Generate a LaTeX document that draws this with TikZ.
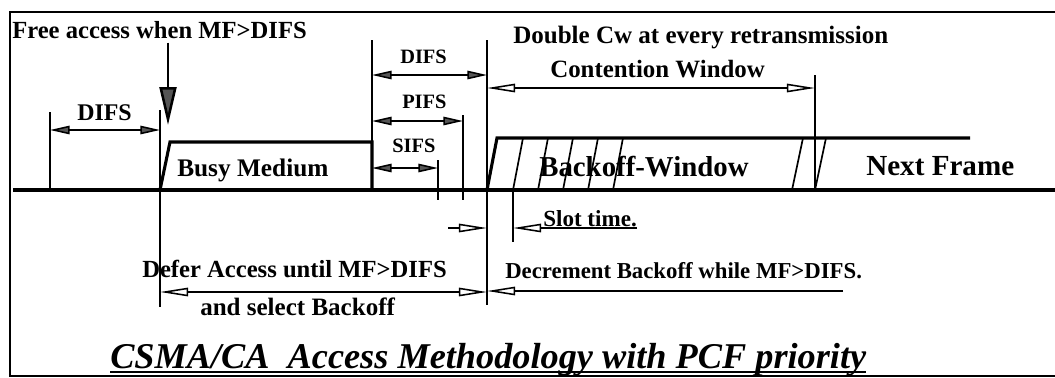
\documentclass[tikz,border=0pt]{standalone}
\usepackage{fontspec}
\setmainfont{Liberation Serif}
\usetikzlibrary{arrows.meta, positioning}
\definecolor{headgray}{RGB}{85, 85, 85}

\begin{document}
\begin{tikzpicture}[x=0.025cm, y=-0.025cm,
    lbl/.style={font=\bfseries\fontsize{#1}{#1}\selectfont, inner sep=0pt, anchor=base west},
    signal/.style={line width=2.2pt},
    tickline/.style={line width=1.3pt},
    slant/.style={line width=1.2pt},
    gap/.style={line width=1.1pt, {Triangle[length=14pt, width=6pt, fill=headgray]}-{Triangle[length=14pt, width=6pt, fill=headgray]}},
    span/.style={line width=1.1pt, {Triangle[open, length=20pt, width=6pt]}-{Triangle[open, length=20pt, width=6pt]}},
    half/.style={line width=1.1pt, -{Triangle[open, length=20pt, width=6pt]}},
    drop/.style={line width=1.8pt, -{Triangle[length=27pt, width=12pt, fill=headgray]}}]
  \useasboundingbox (0,0) rectangle (1055,377);

  % frame
  \draw[tickline] (1055,12) -- (10,12) -- (10,377);
  \draw[tickline] (10,376) -- (1055,376);

  % time instants on the medium line
  \coordinate (t0) at (50,190);
  \coordinate (t1) at (160,190);
  \coordinate (t2) at (372,190);
  \coordinate (t3) at (438,190);
  \coordinate (t4) at (463,190);
  \coordinate (t5) at (487,190);
  \coordinate (t6) at (513,190);
  \coordinate (t7) at (815,190);

  % medium, busy frame, backoff window and next frame
  \draw[signal] (13,190) -- (1055,190);
  \draw[signal] (t1) -- (170,142) -- (372,142) -- (t2);
  \draw[signal] (t5) -- (497,138) -- (970,138);
  \foreach \x in {513,538,...,613}
    \draw[slant] (\x,190) -- ++(10,-52);
  \draw[slant] (792,190) -- ++(11,-52);
  \draw[slant] (t7) -- ++(11,-52);

  % ticks
  \draw[tickline] (t0 |- 0,112) -- (t0);
  \draw[tickline] (t1 |- 0,110) -- (t1 |- 0,307);
  \draw[tickline] (t2 |- 0,40) -- (t2);
  \draw[tickline] (t3 |- 0,160) -- (t3 |- 0,200);
  \draw[tickline] (t4 |- 0,115) -- (t4 |- 0,200);
  \draw[tickline] (t5 |- 0,40) -- (t5 |- 0,305);
  \draw[tickline] (t6) -- (t6 |- 0,242);
  \draw[tickline] (t7 |- 0,75) -- (t7);

  % free access
  \node[lbl=17.5] (free) at (12,38) {Free access when MF>DIFS};
  \coordinate (freeTip) at (168,125);
  \draw[drop] (free.south -| freeTip) ++(0,4) -- (freeTip);

  % interframe spaces
  \node[lbl=17] (difsA) at (77,120) {DIFS};
  \draw[gap] (t0 |- 0,130) -- (t1 |- 0,130);
  \node[lbl=18] (busy) at (177,176) {Busy Medium};
  \node[lbl=14.5] (difsB) at (400,63) {DIFS};
  \draw[gap] (t2 |- 0,75) -- (t5 |- 0,75);
  \node[lbl=14.5] (pifs) at (402,108) {PIFS};
  \draw[gap] (t2 |- 0,121) -- (t4 |- 0,121);
  \node[lbl=14.5] (sifs) at (392,152) {SIFS};
  \draw[gap] (t2 |- 0,168) -- (t3 |- 0,168);

  % contention window
  \node[lbl=17.8] (double) at (513,43) {Double Cw at every retransmission};
  \node[lbl=17.7] (cw) at (550,77) {Contention Window};
  \draw[span] (t5 |- 0,88) -- (t7 |- 0,88);
  \node[lbl=20.5] (bw) at (539,176) {Backoff-Window};
  \node[lbl=20.7] (next) at (866,175) {Next Frame};

  % slot time
  \coordinate (slotIn) at (448,228);
  \coordinate (slotEnd) at (637,228);
  \draw[half] (slotIn) -- (t5 |- slotIn);
  \draw[half] (slotEnd) -- (t6 |- slotEnd);
  \node[lbl=16.4] (slot) at (543,226) {Slot time.};

  % defer and decrement
  \node[lbl=17.5] (defer) at (142,277) {Defer Access until MF>DIFS};
  \draw[span] (t1 |- 0,292) -- (t5 |- 0,292);
  \node[lbl=17.8] (select) at (200,315) {and select Backoff};
  \node[lbl=16.2] (decr) at (505,278) {Decrement Backoff while MF>DIFS.};
  \coordinate (decrEnd) at (843,291);
  \draw[half] (decrEnd) -- (t5 |- decrEnd);

  % title
  \node[font=\bfseries\itshape\fontsize{25.8}{28}\selectfont, inner sep=0pt, anchor=base west] (title) at (110,368) {CSMA/CA\ \ Access Methodology with PCF priority};
  \draw[line width=1.2pt] ([yshift=-3pt]title.base west) -- ([yshift=-3pt]title.base east);
\end{tikzpicture}
\end{document}
